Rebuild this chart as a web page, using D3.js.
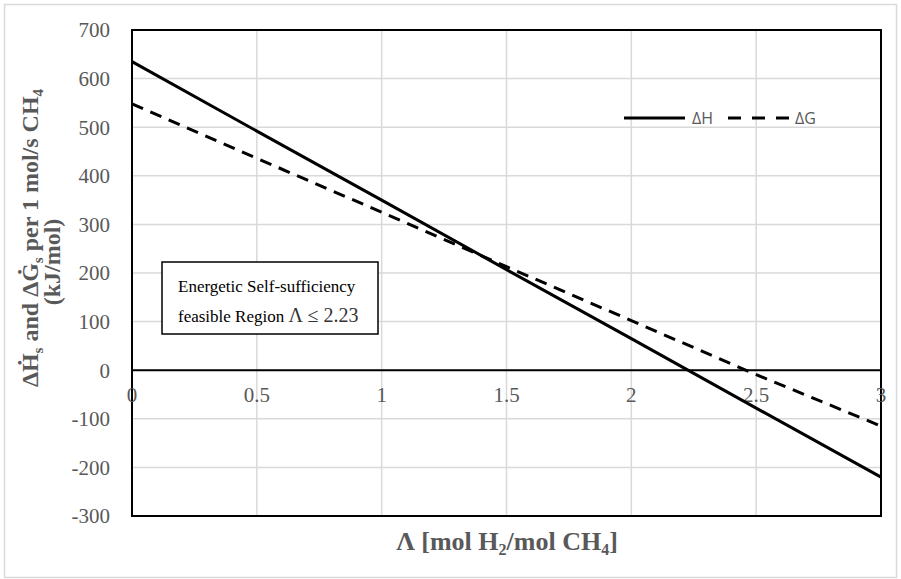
<!DOCTYPE html>
<html>
<head>
<meta charset="utf-8">
<script src="https://cdn.jsdelivr.net/npm/d3@7"></script>
<style>
  body { margin: 0; background: #fff; }
  svg { display: block; }
</style>
</head>
<body>
<div id="chart"></div>
<script>
var width = 901,
    height = 579;

// data
var lambda = [0, 0.5, 1, 1.5, 2, 2.5, 3];
var dH = [635, 492, 350, 207, 65, -78, -220];
var dG = [548, 436, 325, 213, 102, -9, -115];
var xTicks = [0, 0.5, 1, 1.5, 2, 2.5, 3];
var yTicks = [-300, -200, -100, 0, 100, 200, 300, 400, 500, 600, 700];

var svg = d3.select("#chart")
    .append("svg")
    .attr("width", width)
    .attr("height", height);

// outer chart frame
svg.append("rect")
    .attr("x", 4.5).attr("y", 4.5)
    .attr("width", 892).attr("height", 573)
    .attr("fill", "#fff")
    .attr("stroke", "#d9d9d9")
    .attr("stroke-width", 1.5);

var x = d3.scaleLinear().domain([0, 3]).range([132, 881]);
var y = d3.scaleLinear().domain([-300, 700]).range([516, 30]);

var serif = "'Liberation Serif', 'Times New Roman', serif";
var grey = "#595959";

// gridlines
svg.append("g")
    .selectAll("line.vg")
    .data(xTicks.slice(1, -1))
    .enter()
    .append("line")
    .attr("x1", function (d) { return x(d); })
    .attr("x2", function (d) { return x(d); })
    .attr("y1", y(700))
    .attr("y2", y(-300))
    .attr("stroke", "#d9d9d9")
    .attr("stroke-width", 1.5);

svg.append("g")
    .selectAll("line.hg")
    .data(yTicks.slice(1, -1))
    .enter()
    .append("line")
    .attr("x1", x(0))
    .attr("x2", x(3))
    .attr("y1", function (d) { return y(d); })
    .attr("y2", function (d) { return y(d); })
    .attr("stroke", "#d9d9d9")
    .attr("stroke-width", 1.5);

// plot frame and zero line
svg.append("rect")
    .attr("x", x(0)).attr("y", y(700))
    .attr("width", x(3) - x(0))
    .attr("height", y(-300) - y(700))
    .attr("fill", "none")
    .attr("stroke", "#000")
    .attr("stroke-width", 2);

svg.append("line")
    .attr("x1", x(0)).attr("x2", x(3))
    .attr("y1", y(0)).attr("y2", y(0))
    .attr("stroke", "#000")
    .attr("stroke-width", 2);

// tick labels
svg.append("g")
    .selectAll("text")
    .data(yTicks)
    .enter()
    .append("text")
    .attr("x", 110)
    .attr("y", function (d) { return y(d); })
    .attr("dy", "0.35em")
    .attr("text-anchor", "end")
    .style("font-family", serif)
    .style("font-size", "21px")
    .style("fill", grey)
    .text(function (d) { return d; });

svg.append("g")
    .selectAll("text")
    .data(xTicks)
    .enter()
    .append("text")
    .attr("x", function (d) { return x(d); })
    .attr("y", 402)
    .attr("text-anchor", "middle")
    .style("font-family", serif)
    .style("font-size", "21px")
    .style("fill", grey)
    .text(function (d) { return d; });

// series
var line = d3.line()
    .x(function (d) { return x(d[0]); })
    .y(function (d) { return y(d[1]); });

svg.append("path")
    .datum(d3.zip(lambda, dH))
    .attr("d", line)
    .attr("fill", "none")
    .attr("stroke", "#000")
    .attr("stroke-width", 3);

svg.append("path")
    .datum(d3.zip(lambda, dG))
    .attr("d", line)
    .attr("fill", "none")
    .attr("stroke", "#000")
    .attr("stroke-width", 3)
    .attr("stroke-dasharray", "12,8");

// legend
var legend = svg.append("g").attr("transform", "translate(624,118)");
legend.append("line")
    .attr("x1", 0).attr("x2", 61)
    .attr("stroke", "#000").attr("stroke-width", 3);
legend.append("text")
    .attr("x", 68).attr("dy", "0.35em")
    .style("font-family", "'Open Sans', sans-serif")
    .style("font-size", "16px")
    .style("fill", grey)
    .text("ΔH");
legend.append("line")
    .attr("x1", 104).attr("x2", 166)
    .attr("stroke", "#000").attr("stroke-width", 3)
    .attr("stroke-dasharray", "13,11");
legend.append("text")
    .attr("x", 171).attr("dy", "0.35em")
    .style("font-family", "'Open Sans', sans-serif")
    .style("font-size", "16px")
    .style("fill", grey)
    .text("ΔG");

// annotation box
svg.append("rect")
    .attr("x", 162).attr("y", 262)
    .attr("width", 216).attr("height", 72)
    .attr("fill", "#fff")
    .attr("stroke", "#000")
    .attr("stroke-width", 1.5);

var note = svg.append("text")
    .style("font-family", serif)
    .style("font-size", "17px")
    .style("fill", "#000");
note.append("tspan").attr("x", 178).attr("y", 292).text("Energetic Self-sufficiency");
var l2 = note.append("tspan").attr("x", 178).attr("y", 322);
l2.append("tspan").text("feasible Region ");
l2.append("tspan").style("font-size", "20px").style("fill", "#333").text("Λ ≤ 2.23");

// axis titles
var xt = svg.append("text")
    .attr("x", 507).attr("y", 550)
    .attr("text-anchor", "middle")
    .style("font-family", serif)
    .style("font-size", "26px")
    .style("font-weight", "bold")
    .style("fill", grey);
xt.append("tspan").text("Λ [mol H");
xt.append("tspan").attr("dy", 5).style("font-size", "16px").text("2");
xt.append("tspan").attr("dy", -5).text("/mol CH");
xt.append("tspan").attr("dy", 5).style("font-size", "16px").text("4");
xt.append("tspan").attr("dy", -5).text("]");

var yt = svg.append("text")
    .attr("transform", "translate(38,238) rotate(-90)")
    .attr("text-anchor", "middle")
    .style("font-family", serif)
    .style("font-size", "24px")
    .style("font-weight", "bold")
    .style("fill", grey);
yt.append("tspan").text("ΔḢ");
yt.append("tspan").attr("dy", 5).style("font-size", "15px").text("s");
yt.append("tspan").attr("dy", -5).text(" and ΔĠ");
yt.append("tspan").attr("dy", 5).style("font-size", "15px").text("s");
yt.append("tspan").attr("dy", -5).text(" per 1 mol/s CH");
yt.append("tspan").attr("dy", 5).style("font-size", "15px").text("4");

svg.append("text")
    .attr("transform", "translate(60,262) rotate(-90)")
    .attr("text-anchor", "middle")
    .style("font-family", serif)
    .style("font-size", "24px")
    .style("font-weight", "bold")
    .style("fill", grey)
    .text("(kJ/mol)");
</script>
</body>
</html>
